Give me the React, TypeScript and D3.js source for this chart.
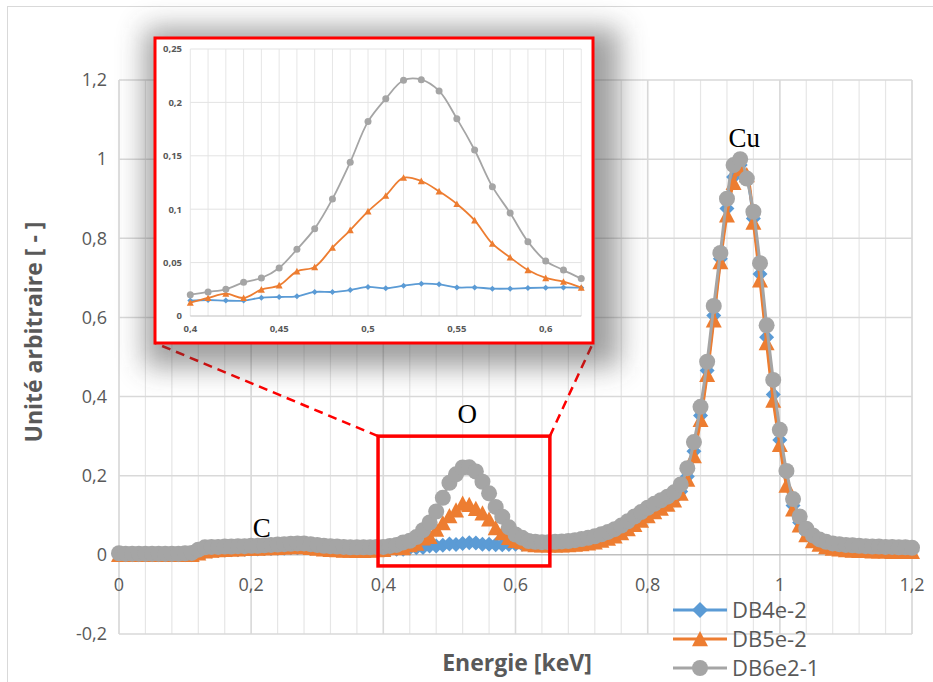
import React from "react";
import * as d3 from "d3";

// ---------- DATA ----------
const energy = [
  0, 0.01, 0.02, 0.03, 0.04, 0.05, 0.06, 0.07, 0.08, 0.09,
  0.1, 0.11, 0.12, 0.13, 0.14, 0.15, 0.16, 0.17, 0.18, 0.19,
  0.2, 0.21, 0.22, 0.23, 0.24, 0.25, 0.26, 0.27, 0.28, 0.29,
  0.3, 0.31, 0.32, 0.33, 0.34, 0.35, 0.36, 0.37, 0.38, 0.39,
  0.4, 0.41, 0.42, 0.43, 0.44, 0.45, 0.46, 0.47, 0.48, 0.49,
  0.5, 0.51, 0.52, 0.53, 0.54, 0.55, 0.56, 0.57, 0.58, 0.59,
  0.6, 0.61, 0.62, 0.63, 0.64, 0.65, 0.66, 0.67, 0.68, 0.69,
  0.7, 0.71, 0.72, 0.73, 0.74, 0.75, 0.76, 0.77, 0.78, 0.79,
  0.8, 0.81, 0.82, 0.83, 0.84, 0.85, 0.86, 0.87, 0.88, 0.89,
  0.9, 0.91, 0.92, 0.93, 0.94, 0.95, 0.96, 0.97, 0.98, 0.99,
  1.0, 1.01, 1.02, 1.03, 1.04, 1.05, 1.06, 1.07, 1.08, 1.09,
  1.1, 1.11, 1.12, 1.13, 1.14, 1.15, 1.16, 1.17, 1.18, 1.19,
  1.2,
];

const db4e2 = [
  0, 0, 0, 0, 0, 0, 0, 0, 0, 0,
  0, 0, 0.003, 0.008, 0.01, 0.011, 0.012, 0.013, 0.013, 0.014,
  0.015, 0.015, 0.016, 0.016, 0.017, 0.017, 0.018, 0.018, 0.018, 0.017,
  0.016, 0.015, 0.014, 0.013, 0.013, 0.012, 0.012, 0.012, 0.013, 0.013,
  0.0144, 0.015, 0.0144, 0.0144, 0.0172, 0.0178, 0.0184, 0.0225, 0.0225, 0.0243,
  0.0272, 0.0259, 0.0284, 0.0303, 0.0297, 0.0268, 0.0268, 0.0256, 0.0256, 0.0262,
  0.0265, 0.0268, 0.0265, 0.026, 0.025, 0.025, 0.025, 0.025, 0.026, 0.027,
  0.029, 0.031, 0.034, 0.038, 0.043, 0.049, 0.057, 0.067, 0.078, 0.09,
  0.101, 0.111, 0.12, 0.13, 0.141, 0.16, 0.198, 0.262, 0.352, 0.466,
  0.605, 0.748, 0.875, 0.955, 0.985, 0.955, 0.85, 0.71, 0.55, 0.405,
  0.29, 0.205, 0.125, 0.082, 0.055, 0.039, 0.029, 0.022, 0.018, 0.016,
  0.014, 0.013, 0.012, 0.012, 0.011, 0.011, 0.011, 0.01, 0.01, 0.01,
  0.01,
];

const db5e2 = [
  0, 0, 0, 0, 0, 0, 0, 0, 0, 0,
  0, 0, 0.004, 0.009, 0.011, 0.012, 0.013, 0.014, 0.014, 0.015,
  0.016, 0.016, 0.017, 0.017, 0.018, 0.019, 0.02, 0.021, 0.02, 0.018,
  0.016, 0.014, 0.013, 0.012, 0.011, 0.011, 0.01, 0.01, 0.011, 0.012,
  0.0125, 0.0169, 0.0209, 0.0169, 0.0247, 0.0287, 0.0418, 0.0459, 0.064, 0.0805,
  0.098, 0.1127, 0.1295, 0.1264, 0.1167, 0.1049, 0.0896, 0.0677, 0.0549, 0.043,
  0.0356, 0.0321, 0.0265, 0.025, 0.024, 0.024, 0.024, 0.024, 0.025, 0.026,
  0.027, 0.029, 0.032, 0.036, 0.041, 0.047, 0.055, 0.065, 0.076, 0.087,
  0.098, 0.108, 0.117, 0.127, 0.138, 0.155, 0.19, 0.25, 0.341, 0.455,
  0.593, 0.74, 0.858, 0.94, 0.975, 0.96, 0.84, 0.694, 0.535, 0.39,
  0.278, 0.175, 0.115, 0.075, 0.05, 0.035, 0.026, 0.02, 0.016, 0.014,
  0.012, 0.011, 0.01, 0.01, 0.009, 0.009, 0.009, 0.008, 0.008, 0.008,
  0.008,
];

const db6e21 = [
  0.004, 0.003, 0.003, 0.003, 0.003, 0.003, 0.003, 0.003, 0.003, 0.003,
  0.004, 0.005, 0.013, 0.019, 0.02, 0.02, 0.021, 0.021, 0.022, 0.022,
  0.023, 0.023, 0.024, 0.025, 0.026, 0.027, 0.028, 0.029, 0.029, 0.027,
  0.025, 0.023, 0.022, 0.021, 0.02, 0.019, 0.019, 0.019, 0.019, 0.02,
  0.02, 0.0225, 0.025, 0.0315, 0.0356, 0.045, 0.0624, 0.0818, 0.1096, 0.144,
  0.182, 0.2035, 0.2207, 0.2213, 0.2107, 0.1848, 0.1554, 0.1211, 0.0964, 0.0696,
  0.0515, 0.043, 0.035, 0.033, 0.032, 0.032, 0.033, 0.034, 0.035, 0.037,
  0.04, 0.043, 0.047, 0.052, 0.058, 0.065, 0.074, 0.085, 0.097, 0.108,
  0.119, 0.129, 0.138, 0.147, 0.158, 0.178, 0.219, 0.285, 0.374, 0.488,
  0.629, 0.763, 0.9, 0.985, 1.0, 0.951, 0.867, 0.737, 0.58, 0.442,
  0.316, 0.212, 0.141, 0.097, 0.066, 0.049, 0.039, 0.033, 0.029, 0.027,
  0.025, 0.024, 0.023, 0.022, 0.021, 0.021, 0.02, 0.02, 0.019, 0.019,
  0.018,
];

const seriesNames = ["DB4e-2", "DB5e-2", "DB6e2-1"];
const seriesColors = ["#5B9BD5", "#ED7D31", "#A5A5A5"];
const seriesShapes = ["diamond", "triangle", "circle"];
const seriesValues = [db4e2, db5e2, db6e21];

const xTicks = [0, 0.2, 0.4, 0.6, 0.8, 1, 1.2];
const yTicks = [-0.2, 0, 0.2, 0.4, 0.6, 0.8, 1, 1.2];
const insetXTicks = [0.4, 0.45, 0.5, 0.55, 0.6];
const insetYTicks = [0, 0.05, 0.1, 0.15, 0.2, 0.25];

const peakLabels = [
  { text: "C", e: 0.216, v: 0.045 },
  { text: "O", e: 0.527, v: 0.333 },
  { text: "Cu", e: 0.946, v: 1.03 },
];

// zoom region (data coordinates) shown in inset
const zoomRegion = { e0: 0.392, e1: 0.652, v0: -0.028, v1: 0.3 };

// ---------- LAYOUT ----------
const W = 933;
const H = 682;
const x = d3.scaleLinear().domain([0, 1.2]).range([119, 912]);
const y = d3.scaleLinear().domain([-0.2, 1.2]).range([634, 80]);

const ix = d3.scaleLinear().domain([0.4, 0.6]).range([190.3, 545.7]);
const iy = d3.scaleLinear().domain([0, 0.25]).range([316, 49]);
const insetEMax = 0.62;
const insetBox = { x: 155, y: 38, w: 438, h: 305 };

const loc = d3.formatLocale({
  decimal: ",",
  thousands: " ",
  grouping: [3],
  currency: ["", ""],
  minus: "-",
});
const fmt = loc.format("~g");

const FONT = "'Open Sans', 'Liberation Sans', sans-serif";
const TXT = "#595959";

function marker(shape: string, cx: number, cy: number, s: number, color: string, key: any) {
  if (shape === "circle") {
    return <circle key={key} cx={cx} cy={cy} r={s / 2} fill={color} />;
  }
  if (shape === "diamond") {
    const h = s / 2;
    const pts = `${cx},${cy - h} ${cx + h},${cy} ${cx},${cy + h} ${cx - h},${cy}`;
    return <polygon key={key} points={pts} fill={color} />;
  }
  const h = s / 2;
  const pts = `${cx},${cy - h} ${cx + h},${cy + h * 0.9} ${cx - h},${cy + h * 0.9}`;
  return <polygon key={key} points={pts} fill={color} />;
}

export default function App() {
  const mainLine = d3
    .line<number>()
    .x((_, i) => x(energy[i]))
    .y((d) => y(d))
    .curve(d3.curveCatmullRom);

  const insetIdx = energy
    .map((e, i) => i)
    .filter((i) => energy[i] >= 0.4 - 1e-9 && energy[i] <= insetEMax + 1e-9);

  const minorX = d3.range(0, 1.2001, 0.04);
  const insetMinorX = d3.range(0.4, insetEMax + 0.0001, 0.01);

  const mainSizes = [15, 16, 16];
  const insetSizes = [6, 7, 7];

  return (
    <svg
      width={W}
      height={H}
      style={{ position: "absolute", left: 0, top: 0, background: "#fff" }}
      fontFamily={FONT}
    >
      <defs>
        <filter id="shadow" x="-30%" y="-30%" width="160%" height="160%">
          <feGaussianBlur stdDeviation="14" />
        </filter>
      </defs>
      <rect x={0} y={0} width={W} height={H} fill="#fff" />
      {/* chart border */}
      <rect x={7.5} y={6.5} width={940} height={700} fill="none" stroke="#D9D9D9" strokeWidth={1} />

      {/* minor vertical gridlines */}
      {minorX.map((e, i) => (
        <line key={"mx" + i} x1={x(e)} x2={x(e)} y1={y(1.2)} y2={y(-0.2)} stroke="#E6E6E6" strokeWidth={1.2} />
      ))}
      {/* major vertical gridlines */}
      {xTicks.map((e, i) => (
        <line key={"Mx" + i} x1={x(e)} x2={x(e)} y1={y(1.2)} y2={y(-0.2)} stroke="#D9D9D9" strokeWidth={1.5} />
      ))}
      {/* horizontal gridlines */}
      {yTicks.map((v, i) => (
        <line key={"gy" + i} x1={x(0)} x2={x(1.2)} y1={y(v)} y2={y(v)} stroke={v === 0 ? "#BFBFBF" : "#D9D9D9"} strokeWidth={1.5} />
      ))}

      {/* y tick labels */}
      {yTicks.map((v, i) => (
        <text key={"yl" + i} x={107} y={y(v)} dy="0.35em" textAnchor="end" fontSize={18} fill={TXT}>
          {fmt(v)}
        </text>
      ))}
      {/* x tick labels */}
      {xTicks.map((e, i) => (
        <text key={"xl" + i} x={x(e)} y={591} textAnchor="middle" fontSize={18} fill={TXT}>
          {fmt(e)}
        </text>
      ))}

      {/* axis titles */}
      <text x={517} y={671} textAnchor="middle" fontSize={23} fontWeight="bold" fill={TXT}>
        Energie [keV]
      </text>
      <text
        transform={`translate(42,${332}) rotate(-90)`}
        textAnchor="middle"
        fontSize={23}
        fontWeight="bold"
        fill={TXT}
      >
        Unité arbitraire [ - ]
      </text>

      {/* main series */}
      {seriesValues.map((vals, s) => (
        <g key={"s" + s}>
          <path d={mainLine(vals) || ""} fill="none" stroke={seriesColors[s]} strokeWidth={3} />
          {vals.map((v, i) => marker(seriesShapes[s], x(energy[i]), y(v), mainSizes[s], seriesColors[s], i))}
        </g>
      ))}

      {/* peak labels */}
      {peakLabels.map((p, i) => (
        <text
          key={"pl" + i}
          x={x(p.e)}
          y={y(p.v)}
          textAnchor="middle"
          fontFamily="'Liberation Serif', 'Times New Roman', serif"
          fontSize={27}
          fill="#000"
        >
          {p.text}
        </text>
      ))}

      {/* zoom box on main chart */}
      <rect
        x={x(zoomRegion.e0)}
        y={y(zoomRegion.v1)}
        width={x(zoomRegion.e1) - x(zoomRegion.e0)}
        height={y(zoomRegion.v0) - y(zoomRegion.v1)}
        fill="none"
        stroke="#FF0000"
        strokeWidth={3.5}
      />
      <line
        x1={x(zoomRegion.e0)}
        y1={y(zoomRegion.v1)}
        x2={insetBox.x}
        y2={insetBox.y + insetBox.h}
        stroke="#FF0000"
        strokeWidth={2.5}
        strokeDasharray="9 6"
      />
      <line
        x1={x(zoomRegion.e1)}
        y1={y(zoomRegion.v1)}
        x2={insetBox.x + insetBox.w}
        y2={insetBox.y + insetBox.h}
        stroke="#FF0000"
        strokeWidth={2.5}
        strokeDasharray="9 6"
      />

      {/* inset shadow */}
      <rect
        x={insetBox.x - 10}
        y={insetBox.y - 10}
        width={insetBox.w + 36}
        height={insetBox.h + 34}
        fill="#404040"
        opacity={0.5}
        filter="url(#shadow)"
      />
      <rect x={insetBox.x} y={insetBox.y} width={insetBox.w} height={insetBox.h} fill="#fff" />

      {/* inset gridlines */}
      {insetMinorX.map((e, i) => (
        <line key={"ix" + i} x1={ix(e)} x2={ix(e)} y1={iy(0.25)} y2={iy(0)} stroke="#E6E6E6" strokeWidth={1} />
      ))}
      {insetYTicks.map((v, i) => (
        <line
          key={"iy" + i}
          x1={ix(0.4)}
          x2={ix(insetEMax)}
          y1={iy(v)}
          y2={iy(v)}
          stroke={v === 0 ? "#BFBFBF" : "#E3E3E3"}
          strokeWidth={1}
        />
      ))}
      {insetYTicks.map((v, i) => (
        <text key={"iyl" + i} x={182} y={iy(v)} dy="0.35em" textAnchor="end" fontSize={9.5} fontWeight="bold" fill={TXT}>
          {fmt(v)}
        </text>
      ))}
      {insetXTicks.map((e, i) => (
        <text key={"ixl" + i} x={ix(e)} y={332} textAnchor="middle" fontSize={9.5} fontWeight="bold" fill={TXT}>
          {fmt(e)}
        </text>
      ))}

      {/* inset series */}
      {seriesValues.map((vals, s) => {
        const ln = d3
          .line<number>()
          .x((i) => ix(energy[i]))
          .y((i) => iy(vals[i]))
          .curve(d3.curveCatmullRom);
        return (
          <g key={"is" + s}>
            <path d={ln(insetIdx) || ""} fill="none" stroke={seriesColors[s]} strokeWidth={1.8} />
            {insetIdx.map((i) => marker(seriesShapes[s], ix(energy[i]), iy(vals[i]), insetSizes[s], seriesColors[s], i))}
          </g>
        );
      })}

      <rect
        x={insetBox.x}
        y={insetBox.y}
        width={insetBox.w}
        height={insetBox.h}
        fill="none"
        stroke="#FF0000"
        strokeWidth={3}
      />

      {/* legend */}
      {seriesNames.map((n, s) => {
        const ly = 610 + s * 29;
        return (
          <g key={"lg" + s}>
            <line x1={673} x2={727} y1={ly} y2={ly} stroke={seriesColors[s]} strokeWidth={3} />
            {marker(seriesShapes[s], 700, ly, 16, seriesColors[s], "m")}
            <text x={732} y={ly} dy="0.36em" fontSize={22} fill={TXT}>
              {n}
            </text>
          </g>
        );
      })}
    </svg>
  );
}
